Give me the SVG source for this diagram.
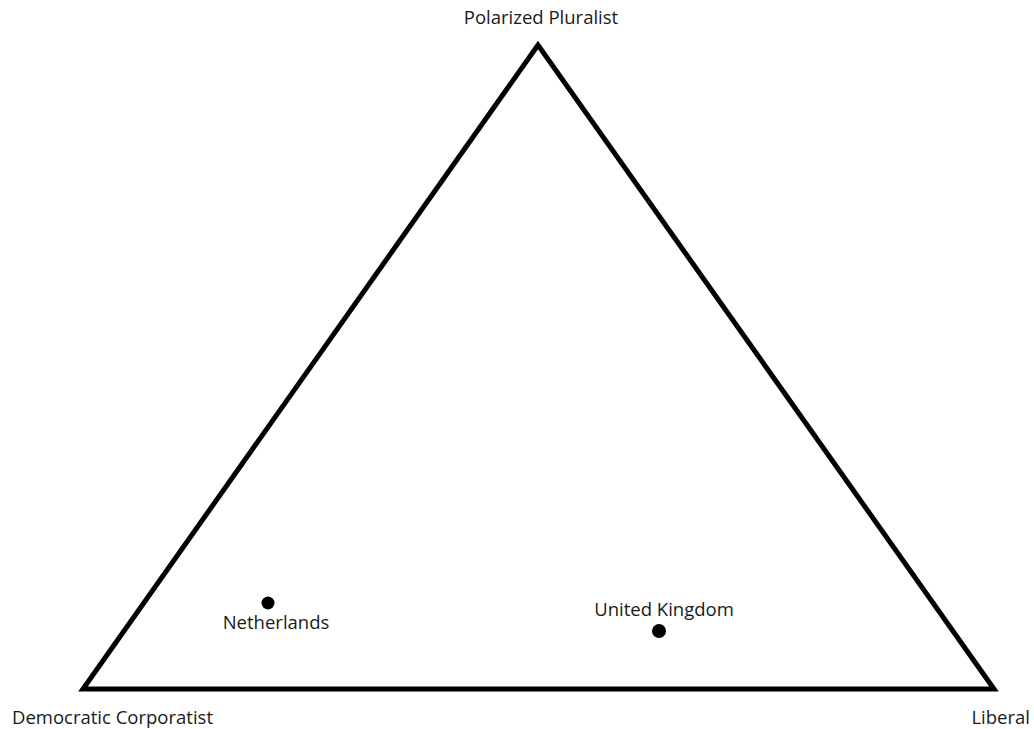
<svg xmlns="http://www.w3.org/2000/svg" width="1034" height="729" viewBox="0 0 1034 729">
<style>
.lbl{font-family:"Open Sans","Noto Sans","Liberation Sans",sans-serif;font-size:18.5px;fill:#1a1a1a}
.dot{fill:#000}
</style>
<rect width="1034" height="729" fill="#fff"/>
<g id="connectors">
<polygon points="538,45 83,689 994,689" fill="none" stroke="#000" stroke-width="5" stroke-linejoin="miter"/>
</g>
<g id="node-polarized"><text class="lbl" x="541" y="24" text-anchor="middle">Polarized Pluralist</text></g>
<g id="node-democratic"><text class="lbl" x="12" y="724">Democratic Corporatist</text></g>
<g id="node-liberal"><text class="lbl" x="1030" y="724" text-anchor="end">Liberal</text></g>
<g id="node-netherlands"><circle class="dot" cx="268" cy="603" r="6.5"/><text class="lbl" x="276" y="629" text-anchor="middle">Netherlands</text></g>
<g id="node-uk"><circle class="dot" cx="659" cy="631" r="7"/><text class="lbl" x="664" y="616" text-anchor="middle">United Kingdom</text></g>
</svg>
